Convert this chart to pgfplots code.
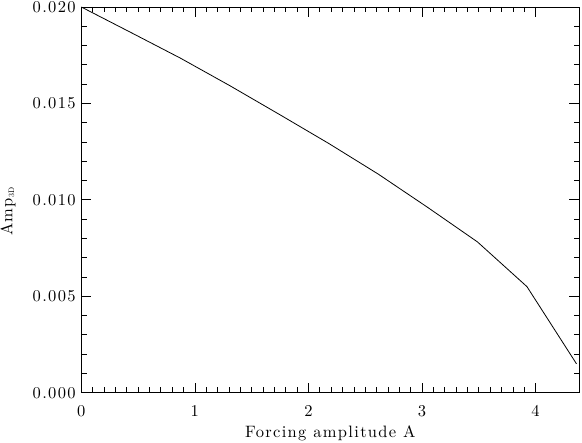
\documentclass[border=0pt]{standalone}
\usepackage{fontspec}
\setmainfont{lmroman10-regular}[Extension=.otf, LetterSpace=8]
\usepackage{pgfplots}
\pgfplotsset{compat=1.18}
\begin{document}
\fontsize{16.5}{20}\selectfont
\begin{tikzpicture}
\begin{axis}[
  scale only axis,
  width=498pt, height=385.7pt,
  xmin=0, xmax=4.385, ymin=0, ymax=0.020,
  xtick={0,1,2,3,4},
  ytick={0,0.005,0.010,0.015,0.020},
  minor x tick num=9,
  minor y tick num=4,
  tick pos=both,
  tick align=inside,
  major tick length=10pt,
  minor tick length=5.5pt,
  every tick/.style={black, line width=0.7pt},
  axis line style={line width=0.8pt},
  scaled y ticks=false,
  yticklabel style={/pgf/number format/fixed, /pgf/number format/precision=3, /pgf/number format/zerofill},
  xticklabel style={yshift=-7pt},
  /pgf/number format/assume math mode=true,
  xlabel={Forcing amplitude A},
  ylabel={Amp\raisebox{-0.25ex}{\fontsize{8}{9}\selectfont 3D}},
  xlabel style={at={(axis description cs:0.5,-0.104)}, anchor=center},
  ylabel style={at={(axis description cs:-0.147,0.47)}, anchor=center, rotate=0},
]
\addplot[black, line width=0.8pt] coordinates {
  (0.000, 0.02000)
  (0.436, 0.01868)
  (0.872, 0.01735)
  (1.308, 0.01592)
  (1.744, 0.01443)
  (2.180, 0.01292)
  (2.616, 0.01133)
  (3.052, 0.00960)
  (3.488, 0.00782)
  (3.924, 0.00550)
  (4.360, 0.00150)
};
\end{axis}
\pgfresetboundingbox
\path ([shift={(-81.3pt,-50.3pt)}]current axis.south west) rectangle ([shift={(2.7pt,7pt)}]current axis.north east);
\end{tikzpicture}
\end{document}
